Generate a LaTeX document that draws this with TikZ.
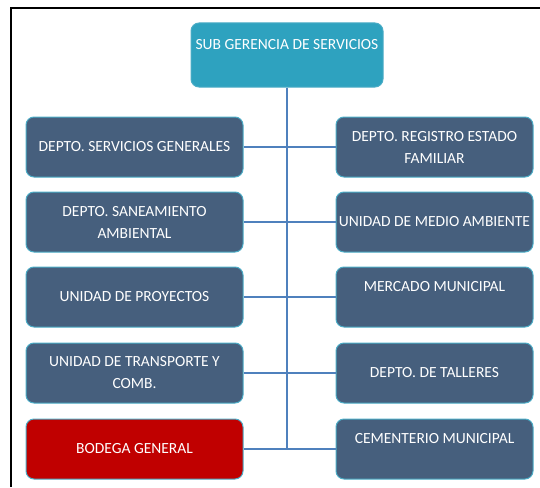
\documentclass[tikz,border=0pt]{standalone}
\usepackage{fontspec}
\setmainfont{Carlito}
\usepackage{tikz}
\usetikzlibrary{positioning}
\definecolor{boxfill}{HTML}{465F7D}
\definecolor{boxedge}{HTML}{4BACC6}
\definecolor{topfill}{HTML}{2EA2BF}
\definecolor{redfill}{HTML}{C00000}
\definecolor{linkblue}{HTML}{4F81BD}
\tikzstyle{unit}=[draw=boxedge, fill=boxfill, line width=1pt, rounded corners=8pt, text=white, align=center, minimum height=60pt, inner sep=0pt, font=\fontsize{15.5}{22}\selectfont]
\tikzstyle{leftunit}=[unit, minimum width=217pt]
\tikzstyle{rightunit}=[unit, minimum width=197pt]
\tikzstyle{link}=[draw=linkblue, line width=1.2pt]

\begin{document}
\begin{tikzpicture}[x=1pt, y=-1pt]
	\useasboundingbox (0,0) rectangle (540,487);
	\draw[line width=2pt] (11,487) -- (11,8) -- (540,8);

	\node[unit, fill=topfill, minimum width=192pt, minimum height=64pt] (sub) at (287,55) {SUB GERENCIA DE SERVICIOS\\\mbox{}};

	\node[leftunit] (l1) at (134.5,147) {DEPTO. SERVICIOS GENERALES};
	\node[leftunit] (l2) at (134.5,222) {DEPTO. SANEAMIENTO\\AMBIENTAL};
	\node[leftunit] (l3) at (134.5,297) {UNIDAD DE PROYECTOS};
	\node[leftunit] (l4) at (134.5,373) {UNIDAD DE TRANSPORTE Y\\COMB.};
	\node[leftunit, fill=redfill] (l5) at (134.5,449) {BODEGA GENERAL};

	\node[rightunit] (r1) at (434.5,147) {DEPTO. REGISTRO ESTADO\\FAMILIAR};
	\node[rightunit] (r2) at (434.5,222) {UNIDAD DE MEDIO AMBIENTE};
	\node[rightunit] (r3) at (434.5,297) {MERCADO MUNICIPAL\\\mbox{}};
	\node[rightunit] (r4) at (434.5,373) {DEPTO. DE TALLERES};
	\node[rightunit] (r5) at (434.5,449) {CEMENTERIO MUNICIPAL\\\mbox{}};

	\draw[link] (sub.south) -- (sub.south |- l5.east);
	\foreach \i in {1,...,5}
		{
			\draw[link] (l\i.east) -- (r\i.west);
		}

\end{tikzpicture}
\end{document}
